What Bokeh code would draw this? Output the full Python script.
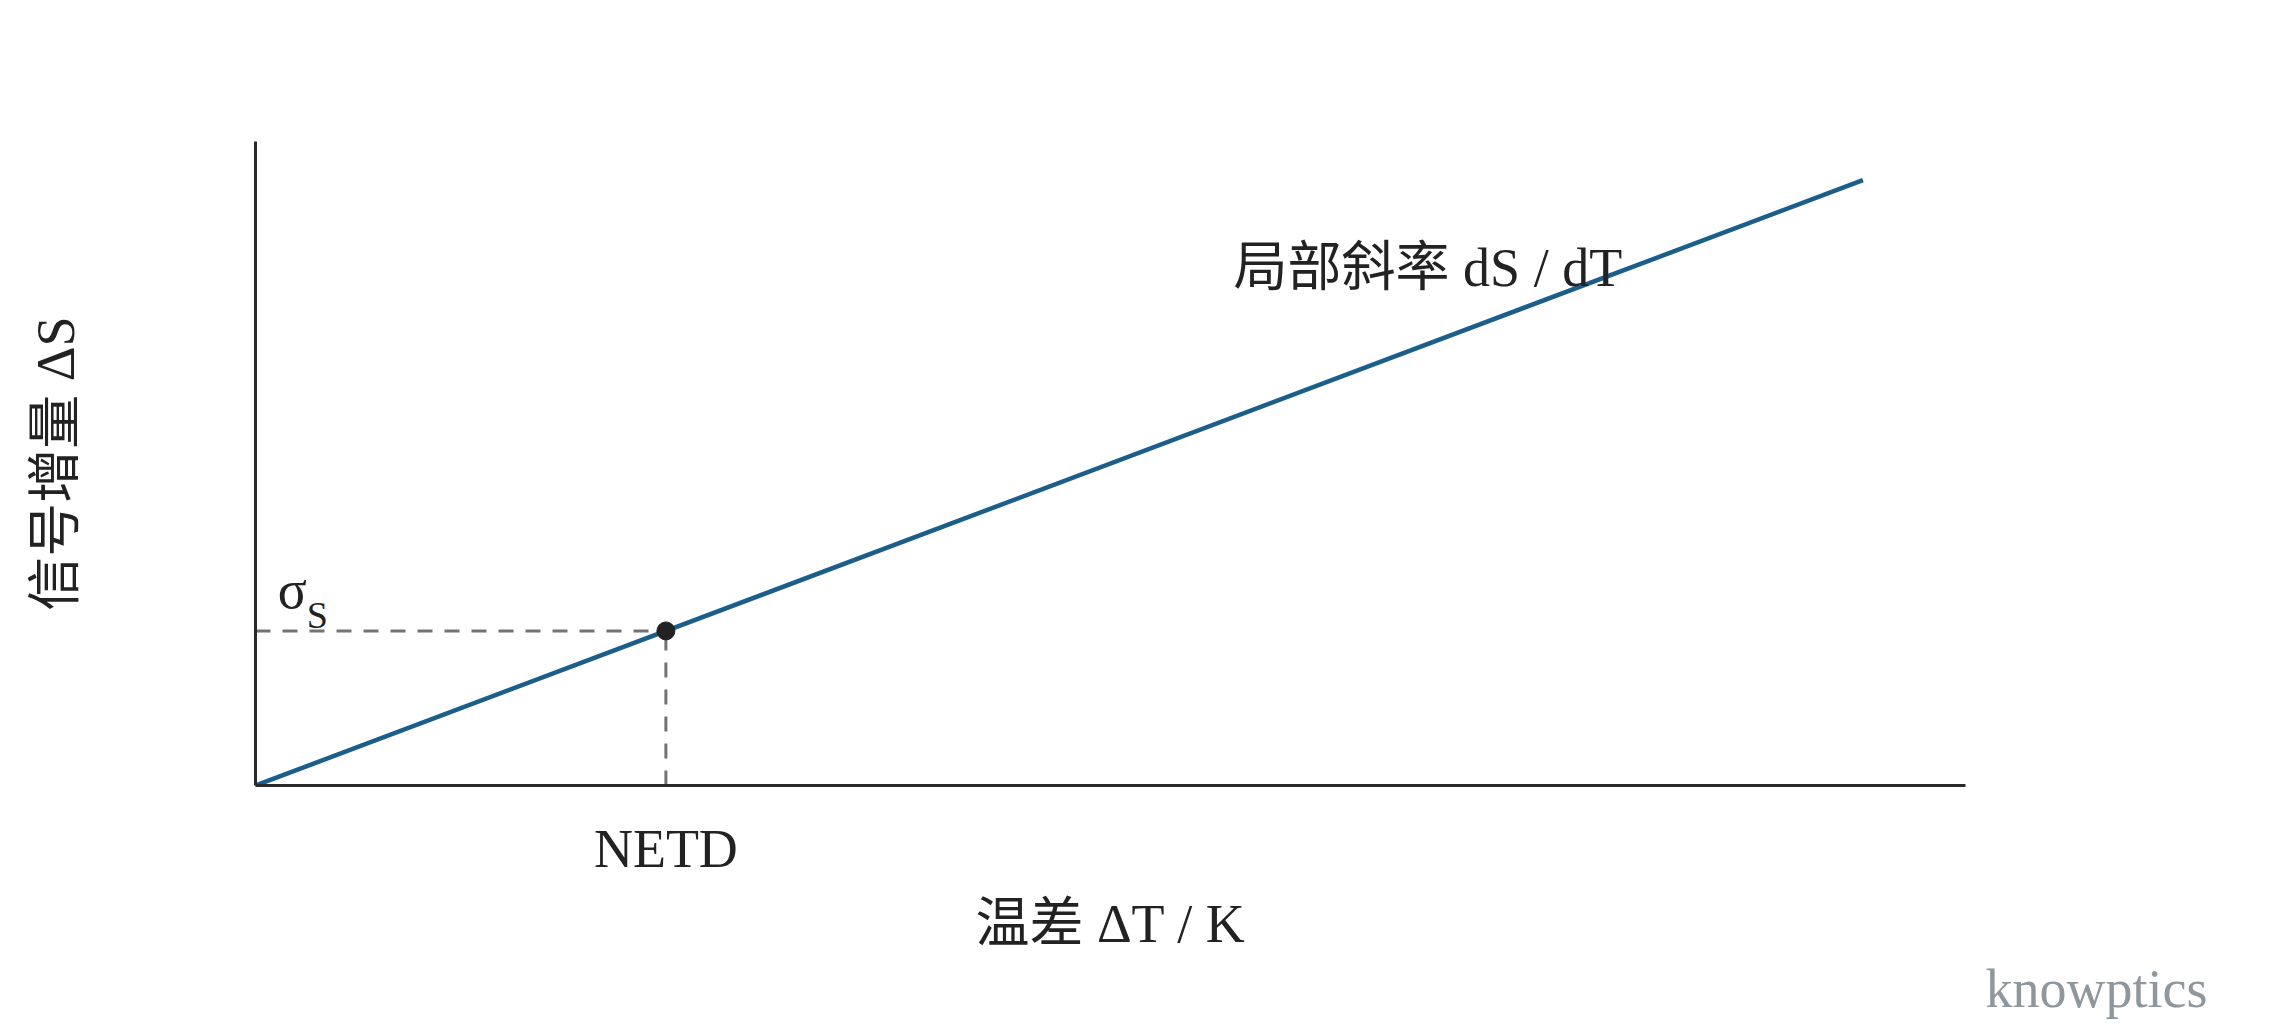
from bokeh.plotting import figure
from bokeh.models import Range1d, FixedTicker, Title
from bokeh.core.properties import value
from bokeh.embed import file_html
from bokeh.resources import INLINE

# ---- data ----
delta_T = [0.0, 9.4]          # temperature difference (arb.)
delta_S = [0.0, 9.4]          # signal increment (arb.)
netd = [2.4]                  # NETD on the x axis
sigma_s = [2.4]               # noise level sigma_S
x_label = "温差 ΔT / K"
y_label = "信号增量 ΔS"
slope_label = "局部斜率 dS / dT"
netd_label = "NETD"
watermark = "knowptics"

SERIF = "'Liberation Serif', 'Noto Sans CJK SC'"
TXT = "#222222"
FS = "54px"

W, H = 2264, 1019
p = figure(width=W, height=H, output_backend="svg", toolbar_location=None,
           x_range=Range1d(0, 10), y_range=Range1d(0, 10),
           min_border_left=255, min_border_right=299,
           min_border_top=141, min_border_bottom=234)
p.outline_line_color = None
p.grid.visible = False
p.background_fill_color = "white"
p.border_fill_color = "white"

# axes
xa = p.xaxis[0]
xa.ticker = FixedTicker(ticks=netd)
xa.major_label_overrides = {netd[0]: netd_label}
xa.major_tick_in = 0
xa.major_tick_out = 0
xa.minor_tick_in = 0
xa.minor_tick_out = 0
xa.major_label_text_font = SERIF
xa.major_label_text_font_size = FS
xa.major_label_text_color = TXT
xa.major_label_standoff = 33
xa.axis_label = x_label
xa.axis_label_text_font = SERIF
xa.axis_label_text_font_style = "normal"
xa.axis_label_text_font_size = FS
xa.axis_label_text_color = TXT
xa.axis_label_standoff = 12
xa.axis_line_width = 3
xa.axis_line_color = "#2a2a2a"

ya = p.yaxis[0]
ya.ticker = FixedTicker(ticks=[])
ya.major_tick_in = 0
ya.major_tick_out = 0
ya.minor_tick_in = 0
ya.minor_tick_out = 0
ya.axis_label = y_label
ya.axis_label_text_font = SERIF
ya.axis_label_text_font_style = "normal"
ya.axis_label_text_font_size = FS
ya.axis_label_text_color = TXT
ya.axis_label_standoff = 170
ya.axis_line_width = 3
ya.axis_line_color = "#2a2a2a"

# dashed guides
p.segment(x0=[0], y0=sigma_s, x1=netd, y1=sigma_s, line_color="#737373",
          line_width=3, line_dash="15 12")
p.segment(x0=netd, y0=[0], x1=netd, y1=sigma_s, line_color="#737373",
          line_width=3, line_dash="15 12")

# response line
p.line(delta_T, delta_S, line_color="#1b5e8a", line_width=4.5)

# NETD point
p.scatter(netd, sigma_s, size=18, fill_color="#222222", line_color="#222222")

# annotations
p.text(x=[5.72], y=[8.03], text=[slope_label], text_font=value(SERIF),
       text_font_size=FS, text_color=TXT, text_align="left",
       text_baseline="alphabetic")
p.text(x=[0.13], y=[3.03], text=["σ"], text_font=value(SERIF),
       text_font_size=FS, text_color=TXT, text_align="left",
       text_baseline="alphabetic")
p.text(x=[0.30], y=[2.64], text=["S"], text_font=value(SERIF),
       text_font_size="38px", text_color=TXT, text_align="left",
       text_baseline="alphabetic")

p.add_layout(Title(text=watermark, align="right", offset=-242, standoff=0,
                   text_font=SERIF, text_font_size=FS, text_font_style="normal",
                   text_color="#8f979c"), "below")

open("out.html", "w").write(file_html(p, INLINE))
